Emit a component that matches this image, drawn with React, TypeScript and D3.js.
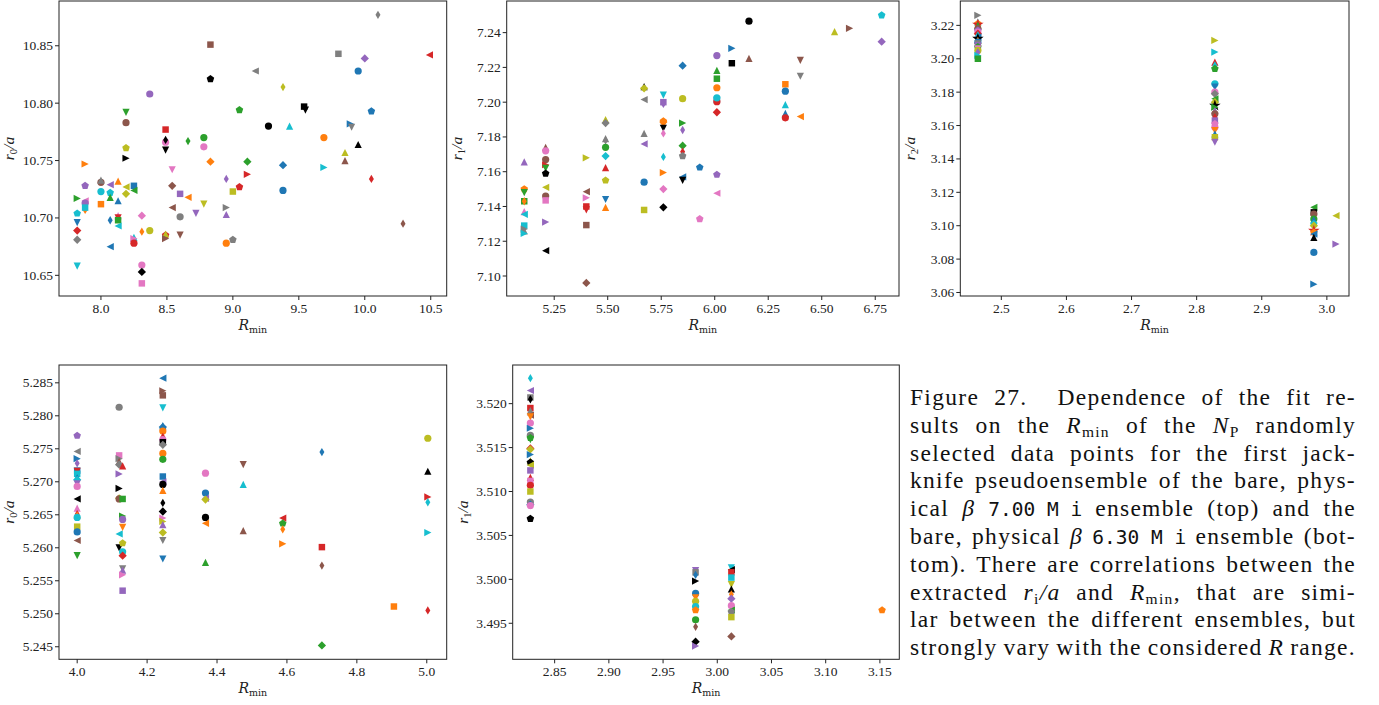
import { useEffect, useRef } from 'react';
import * as d3 from 'd3';

type Pt = [number, number, number, string];

// tab10 + black (index 10)
const COLORS = ['#1f77b4', '#ff7f0e', '#2ca02c', '#d62728', '#9467bd', '#8c564b', '#e377c2', '#7f7f7f', '#bcbd22', '#17becf', '#000000'];

// top left: r0/a vs Rmin (beta 7.00)
const p1: Pt[] = [
  [10.10, 10.877, 7, 'd'], [8.83, 10.851, 5, 's'], [9.80, 10.843, 7, 's'], [10.49, 10.842, 3, '<'],
  [10.00, 10.839, 4, 'D'], [9.95, 10.828, 0, 'o'], [9.17, 10.828, 7, '<'], [8.83, 10.821, 10, 'p'],
  [8.37, 10.808, 4, 'o'], [9.38, 10.814, 8, 'd'], [9.05, 10.794, 2, 'p'], [10.05, 10.793, 0, 'p'],
  [9.54, 10.797, 10, 's'], [9.55, 10.794, 10, 'v'], [8.19, 10.792, 2, 'v'], [8.19, 10.783, 5, 'o'],
  [9.27, 10.780, 10, 'o'], [9.43, 10.780, 9, '^'], [9.89, 10.782, 0, '>'], [9.90, 10.779, 7, 'v'],
  [8.49, 10.777, 3, 's'], [9.69, 10.770, 1, 'o'], [8.78, 10.770, 2, 'o'], [8.66, 10.767, 2, 'd'],
  [8.49, 10.766, 6, 'o'], [8.49, 10.768, 10, 'd'], [8.49, 10.759, 10, 'v'], [8.19, 10.761, 8, 'p'],
  [8.78, 10.762, 6, 'o'], [9.95, 10.764, 10, '^'], [8.19, 10.752, 10, '>'], [7.88, 10.747, 1, '>'],
  [8.83, 10.749, 1, 'D'], [9.11, 10.749, 2, 'D'], [9.38, 10.746, 0, 'D'], [9.85, 10.757, 8, '^'],
  [9.85, 10.750, 5, '^'], [9.69, 10.744, 9, '>'], [8.54, 10.742, 6, 'v'], [9.11, 10.738, 3, '>'],
  [10.05, 10.734, 3, 'd'], [8.95, 10.734, 4, 'd'], [8.00, 10.731, 5, 'o'], [8.00, 10.733, 7, '^'],
  [8.07, 10.729, 4, '<'], [8.13, 10.732, 1, '^'], [7.88, 10.728, 4, 'p'], [8.19, 10.727, 8, '<'],
  [8.25, 10.728, 0, 's'], [9.05, 10.727, 3, 'p'], [8.54, 10.728, 5, 'D'], [9.38, 10.724, 0, 'o'],
  [8.00, 10.723, 9, 'o'], [8.07, 10.722, 9, 'p'], [8.25, 10.724, 2, '<'], [8.19, 10.721, 8, 'D'],
  [9.00, 10.723, 8, 's'], [8.60, 10.721, 4, 's'], [7.82, 10.717, 2, '>'], [8.07, 10.718, 2, '^'],
  [8.00, 10.712, 1, 's'], [8.13, 10.715, 0, '^'], [8.66, 10.718, 1, '<'], [8.78, 10.712, 8, 'v'],
  [7.88, 10.715, 6, '<'], [7.88, 10.713, 4, 'o'], [7.88, 10.707, 1, 'd'], [7.88, 10.709, 9, 's'],
  [7.82, 10.704, 9, 'p'], [8.95, 10.709, 7, '>'], [8.54, 10.709, 5, '<'], [8.72, 10.704, 4, 'v'],
  [8.95, 10.703, 4, '^'], [8.31, 10.702, 6, 'D'], [8.60, 10.701, 7, 'o'], [7.82, 10.696, 0, 'v'],
  [8.07, 10.698, 0, 'd'], [8.13, 10.702, 6, '^'], [8.13, 10.700, 3, 'v'], [8.13, 10.698, 2, 's'],
  [8.13, 10.693, 9, '<'], [7.82, 10.689, 3, 'D'], [8.31, 10.688, 1, 'd'], [8.37, 10.689, 8, 'o'],
  [8.49, 10.685, 3, 'p'], [8.49, 10.686, 8, '^'], [8.49, 10.682, 5, '>'], [8.60, 10.685, 5, 'v'],
  [8.25, 10.683, 9, '^'], [8.25, 10.682, 6, '>'], [8.25, 10.678, 3, 'o'], [7.82, 10.681, 7, 'D'],
  [9.00, 10.681, 7, 'p'], [8.95, 10.678, 1, 'o'], [10.29, 10.695, 5, 'd'], [8.07, 10.675, 0, '<'],
  [7.82, 10.658, 9, 'v'], [8.31, 10.659, 6, 'o'], [8.31, 10.653, 10, 'D'], [8.31, 10.643, 6, 's'],
];

// top middle: r1/a
const p2: Pt[] = [
  [5.11, 7.1656, 4, '^'], [5.11, 7.150, 1, 'p'], [5.11, 7.148, 2, 'v'], [5.11, 7.143, 2, 's'], [5.11, 7.143, 1, 'd'],
  [5.11, 7.137, 6, '^'], [5.11, 7.1355, 9, '<'], [5.11, 7.129, 9, 's'], [5.11, 7.127, 7, '>'], [5.11, 7.126, 7, '^'], [5.11, 7.1245, 9, '>'],
  [5.21, 7.174, 5, '^'], [5.21, 7.172, 6, 'o'], [5.21, 7.167, 5, 'o'], [5.21, 7.164, 3, '>'], [5.21, 7.162, 2, 'v'],
  [5.21, 7.159, 10, 'p'], [5.21, 7.151, 8, '<'], [5.21, 7.146, 5, 'o'], [5.21, 7.1435, 6, 's'], [5.21, 7.131, 4, '>'], [5.21, 7.1146, 10, '<'],
  [5.40, 7.168, 8, '>'], [5.40, 7.1485, 5, '<'], [5.40, 7.145, 6, '>'], [5.40, 7.140, 3, 's'], [5.40, 7.138, 3, 'v'],
  [5.40, 7.1293, 5, 's'], [5.40, 7.096, 5, 'D'],
  [5.49, 7.190, 8, '^'], [5.49, 7.189, 8, 'd'], [5.49, 7.188, 7, 'D'], [5.49, 7.179, 7, '^'], [5.49, 7.178, 7, 'd'],
  [5.49, 7.174, 2, 'o'], [5.49, 7.169, 9, 'D'], [5.49, 7.1623, 3, '^'], [5.49, 7.155, 8, 'p'], [5.49, 7.144, 0, 'v'], [5.49, 7.1395, 1, '^'],
  [5.67, 7.209, 10, '^'], [5.67, 7.208, 8, 'D'], [5.67, 7.2015, 7, '<'], [5.67, 7.182, 7, '^'], [5.67, 7.176, 4, '<'],
  [5.67, 7.154, 0, 'o'], [5.67, 7.138, 8, 's'],
  [5.76, 7.204, 9, 'v'], [5.76, 7.200, 4, 's'], [5.76, 7.199, 4, 'd'], [5.76, 7.1886, 1, 'D'], [5.76, 7.189, 1, 'p'],
  [5.76, 7.185, 10, 'v'], [5.76, 7.182, 6, 'd'], [5.76, 7.1685, 9, 'd'], [5.76, 7.1595, 1, '>'], [5.76, 7.150, 6, 'D'], [5.76, 7.1395, 10, 'D'],
  [5.85, 7.221, 0, 'D'], [5.85, 7.202, 8, 'o'], [5.85, 7.188, 2, '>'], [5.85, 7.184, 4, 'd'], [5.85, 7.175, 2, 'D'],
  [5.85, 7.1715, 3, 'd'], [5.85, 7.169, 7, 'p'], [5.85, 7.157, 0, '<'], [5.85, 7.155, 10, 'v'],
  [5.93, 7.1625, 0, 'p'], [5.93, 7.1328, 6, 'p'],
  [6.01, 7.2268, 4, 'o'], [6.01, 7.2183, 2, '^'], [6.01, 7.2135, 2, 's'], [6.01, 7.2083, 1, 'o'], [6.01, 7.2013, 0, 's'],
  [6.01, 7.2003, 3, 'o'], [6.01, 7.2025, 9, 'o'], [6.01, 7.1942, 3, 'D'], [6.01, 7.1583, 4, 'p'], [6.01, 7.1476, 6, '<'],
  [6.08, 7.231, 0, '>'], [6.08, 7.2224, 10, 's'],
  [6.16, 7.2466, 10, 'o'], [6.16, 7.2252, 5, '^'],
  [6.33, 7.2103, 1, 's'], [6.33, 7.2063, 0, 'o'], [6.33, 7.1986, 9, '^'], [6.33, 7.1935, 0, '^'], [6.33, 7.191, 3, 'o'],
  [6.40, 7.224, 5, 'v'], [6.40, 7.2149, 7, 'v'], [6.40, 7.1917, 1, '<'],
  [6.56, 7.2406, 8, '^'], [6.63, 7.2425, 5, '>'], [6.78, 7.250, 9, 'p'], [6.78, 7.2348, 4, 'D'],
];

// top right: r2/a
const p3: Pt[] = [
  [2.464, 3.226, 7, '>'], [2.464, 3.222, 9, '^'], [2.464, 3.221, 1, 'p'], [2.464, 3.2205, 3, '*'], [2.464, 3.220, 2, '^'],
  [2.464, 3.218, 5, 'o'], [2.464, 3.217, 4, 'p'], [2.464, 3.216, 6, 'o'], [2.464, 3.215, 3, 'D'], [2.464, 3.214, 9, 'd'],
  [2.464, 3.213, 0, '<'], [2.464, 3.212, 10, '*'], [2.464, 3.211, 1, '^'], [2.464, 3.210, 0, 'o'], [2.464, 3.209, 7, 'v'],
  [2.464, 3.208, 4, 's'], [2.464, 3.207, 2, 'p'], [2.464, 3.206, 6, 'v'], [2.464, 3.205, 8, 'o'], [2.464, 3.204, 4, 'd'],
  [2.464, 3.202, 9, '>'], [2.464, 3.200, 2, 's'],
  [2.828, 3.211, 8, '>'], [2.828, 3.204, 9, '>'], [2.828, 3.198, 3, '^'], [2.828, 3.196, 9, 'd'], [2.828, 3.194, 2, 'p'],
  [2.828, 3.185, 9, 'o'], [2.828, 3.183, 0, 'v'], [2.828, 3.180, 6, 'o'], [2.828, 3.179, 7, 'D'], [2.828, 3.176, 2, '<'],
  [2.828, 3.174, 8, 'D'], [2.828, 3.172, 10, '*'], [2.828, 3.171, 2, '>'], [2.828, 3.169, 4, '^'], [2.828, 3.167, 5, 'o'],
  [2.828, 3.165, 3, 'd'], [2.828, 3.163, 4, 's'], [2.828, 3.161, 6, 'p'], [2.828, 3.159, 6, 'o'], [2.828, 3.157, 1, 'v'],
  [2.828, 3.155, 0, '^'], [2.828, 3.153, 8, 's'], [2.828, 3.150, 4, 'v'],
  [2.980, 3.111, 2, '<'], [2.980, 3.108, 10, 's'], [2.980, 3.107, 5, 'o'], [2.980, 3.104, 2, 'o'], [2.980, 3.103, 0, 'd'],
  [2.980, 3.101, 9, 'p'], [2.980, 3.100, 8, 'D'], [2.980, 3.097, 3, '*'], [2.980, 3.096, 1, 'p'], [2.980, 3.095, 0, '<'],
  [2.980, 3.093, 10, '^'], [2.980, 3.084, 0, 'o'], [2.980, 3.065, 0, '>'],
  [3.014, 3.106, 8, '<'], [3.014, 3.089, 4, '>'],
];

// bottom left: r0/a (beta 6.30)
const p4: Pt[] = [
  [4.0, 5.277, 4, 'p'], [4.0, 5.2746, 7, '<'], [4.0, 5.2735, 0, '>'], [4.0, 5.2728, 4, 'd'], [4.0, 5.2717, 0, 's'],
  [4.0, 5.2716, 3, 'v'], [4.0, 5.2712, 9, 's'], [4.0, 5.2705, 0, 'd'], [4.0, 5.2703, 9, 'D'], [4.0, 5.2697, 4, 'v'],
  [4.0, 5.2693, 6, 'o'], [4.0, 5.2674, 10, '<'], [4.0, 5.266, 6, '^'], [4.0, 5.2651, 3, 'd'], [4.0, 5.265, 1, '^'],
  [4.0, 5.2646, 9, 'o'], [4.0, 5.2632, 8, 's'], [4.0, 5.2624, 0, 'o'], [4.0, 5.2611, 5, '<'], [4.0, 5.2588, 2, 'v'],
  [4.12, 5.2813, 7, 'o'], [4.12, 5.274, 6, 's'], [4.12, 5.2735, 7, '>'], [4.12, 5.2731, 5, '^'], [4.12, 5.2726, 7, 'D'],
  [4.12, 5.2712, 4, '>'], [4.12, 5.269, 10, '>'], [4.12, 5.2675, 8, 'D'], [4.12, 5.2674, 5, 'o'], [4.12, 5.2621, 9, '<'],
  [4.12, 5.260, 10, 'v'],
  [4.13, 5.2724, 3, '^'], [4.13, 5.2674, 2, 's'], [4.13, 5.2648, 2, '>'], [4.13, 5.2643, 4, 'o'], [4.13, 5.2631, 1, 'v'],
  [4.13, 5.2607, 8, 'p'], [4.13, 5.2594, 9, 'o'], [4.13, 5.2588, 3, 'D'], [4.13, 5.2568, 7, 'v'], [4.13, 5.2566, 4, '^'],
  [4.13, 5.2559, 6, '>'], [4.13, 5.2535, 4, 's'],
  [4.245, 5.2857, 0, '<'], [4.245, 5.2838, 5, '>'], [4.245, 5.2831, 5, 's'], [4.245, 5.2812, 9, 'v'], [4.245, 5.2785, 0, '^'],
  [4.245, 5.2783, 0, 'D'], [4.245, 5.2777, 1, 'o'], [4.245, 5.2768, 3, 'd'], [4.245, 5.2764, 6, 'o'], [4.245, 5.276, 10, 's'],
  [4.245, 5.2756, 7, 'D'], [4.245, 5.2743, 1, 'o'], [4.245, 5.2734, 2, 'o'], [4.245, 5.2708, 0, 's'], [4.245, 5.270, 4, '<'],
  [4.245, 5.2696, 10, 'o'], [4.245, 5.2687, 1, '^'], [4.245, 5.2668, 10, 'd'], [4.245, 5.2655, 10, 'D'], [4.245, 5.2645, 6, '>'],
  [4.245, 5.264, 8, '>'], [4.245, 5.2635, 4, '^'], [4.245, 5.2623, 8, 'D'], [4.245, 5.2611, 7, 'v'], [4.245, 5.2583, 0, 'v'],
  [4.367, 5.2713, 6, 'o'], [4.367, 5.2683, 0, 'o'], [4.367, 5.2675, 4, '<'], [4.367, 5.2673, 8, 'D'], [4.367, 5.2646, 10, 'o'],
  [4.367, 5.2637, 1, '<'], [4.367, 5.2578, 2, '^'],
  [4.475, 5.2726, 5, 'v'], [4.475, 5.2696, 9, '^'], [4.475, 5.2626, 5, '^'],
  [4.588, 5.2645, 3, '<'], [4.588, 5.2637, 2, 'p'], [4.588, 5.2628, 1, 'd'], [4.588, 5.2606, 1, '>'],
  [4.70, 5.2745, 0, 'd'], [4.70, 5.2601, 3, 's'], [4.70, 5.2573, 5, 'd'], [4.70, 5.2452, 2, 'D'],
  [4.906, 5.2511, 1, 's'],
  [5.003, 5.2766, 8, 'o'], [5.003, 5.2716, 10, '^'], [5.003, 5.2677, 3, '>'], [5.003, 5.2669, 9, 'd'], [5.003, 5.2623, 9, '>'],
  [5.003, 5.2505, 3, 'd'],
];

// bottom middle: r1/a (beta 6.30)
const p5: Pt[] = [
  [2.8276, 3.5229, 9, 'd'], [2.8276, 3.5215, 4, '<'], [2.8276, 3.5207, 7, 's'], [2.8276, 3.5205, 10, 'd'], [2.8276, 3.5195, 3, 's'],
  [2.8276, 3.5192, 7, '^'], [2.8276, 3.5187, 5, '<'], [2.8276, 3.5185, 1, 'v'], [2.8276, 3.5178, 6, 'o'], [2.8276, 3.5172, 0, '>'],
  [2.8276, 3.5164, 7, 'o'], [2.8276, 3.5161, 2, 'p'], [2.8276, 3.5159, 2, 'v'], [2.8276, 3.5149, 3, 'D'], [2.8276, 3.5148, 8, 'D'],
  [2.8276, 3.5142, 0, '>'], [2.8276, 3.5135, 8, '^'], [2.8276, 3.5133, 10, 'p'], [2.8276, 3.513, 8, '<'], [2.8276, 3.5124, 4, 's'],
  [2.8276, 3.5116, 3, '^'], [2.8276, 3.5112, 6, 's'], [2.8276, 3.5107, 3, 'o'], [2.8276, 3.510, 8, 's'], [2.8276, 3.5088, 7, 'o'],
  [2.8276, 3.5085, 0, 'D'], [2.8276, 3.5084, 6, 'o'], [2.8276, 3.5069, 10, 'p'],
  [2.980, 3.501, 4, 'v'], [2.980, 3.5008, 7, 's'], [2.980, 3.5005, 0, 'd'], [2.980, 3.4998, 10, '>'], [2.980, 3.4984, 0, 'o'],
  [2.980, 3.4979, 1, 'v'], [2.980, 3.4975, 8, 'o'], [2.980, 3.4969, 9, 'o'], [2.980, 3.4965, 1, 'p'], [2.980, 3.4954, 2, 'o'],
  [2.980, 3.4946, 5, 'd'], [2.980, 3.4929, 10, 'D'], [2.980, 3.4924, 4, '>'],
  [3.013, 3.5013, 9, 'v'], [3.013, 3.5011, 10, '<'], [3.013, 3.5008, 3, 's'], [3.013, 3.5002, 9, 's'], [3.013, 3.4994, 8, 'v'],
  [3.013, 3.4989, 10, '^'], [3.013, 3.4983, 1, 'd'], [3.013, 3.4978, 4, 'D'], [3.013, 3.497, 6, 'o'], [3.013, 3.4965, 2, '<'],
  [3.013, 3.4963, 7, 'p'], [3.013, 3.4957, 8, 's'], [3.013, 3.4935, 5, 'D'],
  [3.152, 3.4965, 1, 'p'],
];

const x1Ticks = [8.0, 8.5, 9.0, 9.5, 10.0, 10.5];
const y1Ticks = [10.65, 10.70, 10.75, 10.80, 10.85];
const x2Ticks = [5.25, 5.50, 5.75, 6.00, 6.25, 6.50, 6.75];
const y2Ticks = [7.10, 7.12, 7.14, 7.16, 7.18, 7.20, 7.22, 7.24];
const x3Ticks = [2.5, 2.6, 2.7, 2.8, 2.9, 3.0];
const y3Ticks = [3.06, 3.08, 3.10, 3.12, 3.14, 3.16, 3.18, 3.20, 3.22];
const x4Ticks = [4.0, 4.2, 4.4, 4.6, 4.8, 5.0];
const y4Ticks = [5.245, 5.250, 5.255, 5.260, 5.265, 5.270, 5.275, 5.280, 5.285];
const x5Ticks = [2.85, 2.90, 2.95, 3.00, 3.05, 3.10, 3.15];
const y5Ticks = [3.495, 3.500, 3.505, 3.510, 3.515, 3.520];

const SERIF = 'Liberation Serif';
const SERIF2 = 'DejaVu Serif';
const MONO = 'DejaVu Sans Mono';

function marker(m: string, r: number): string {
  switch (m) {
    case 'o': return d3.symbol(d3.symbolCircle, Math.PI * r * r)() as string;
    case '^': return `M0,${-r}L${r},${r}L${-r},${r}Z`;
    case 'v': return `M0,${r}L${r},${-r}L${-r},${-r}Z`;
    case '<': return `M${-r},0L${r},${-r}L${r},${r}Z`;
    case '>': return `M${r},0L${-r},${-r}L${-r},${r}Z`;
    case 's': { const h = r * 0.9; return `M${-h},${-h}H${h}V${h}H${-h}Z`; }
    case 'D': { const h = r * 1.15; return `M0,${-h}L${h},0L0,${h}L${-h},0Z`; }
    case 'd': { const h = r * 1.15; return `M0,${-h}L${h * 0.6},0L0,${h}L${-h * 0.6},0Z`; }
    case 'p': {
      const pts = d3.range(5).map(i => {
        const a = -Math.PI / 2 + (i * 2 * Math.PI) / 5;
        return [Math.cos(a) * r * 1.1, Math.sin(a) * r * 1.1];
      });
      return 'M' + pts.map(p => p.join(',')).join('L') + 'Z';
    }
    case '*': return d3.symbol(d3.symbolStar, r * r * 3.2)() as string;
    default: return '';
  }
}

function Panel({ left, top, right, bottom, xd, yd, xt, yt, xf, yf, sub, pts }: any) {
  const x = d3.scaleLinear().domain(xd).range([left, right]);
  const y = d3.scaleLinear().domain(yd).range([bottom, top]);
  const fx = d3.format(xf);
  const fy = d3.format(yf);
  const midY = (top + bottom) / 2;
  return (
    <g>
      {pts.map((p: Pt, i: number) => (
        <path key={i} d={marker(p[3], 3.6)} fill={COLORS[p[2]]}
          transform={`translate(${x(p[0])},${y(p[1])})`} />
      ))}
      <rect x={left} y={top} width={right - left} height={bottom - top} fill="none" stroke="#222" strokeWidth={1} />
      {xt.map((t: number) => (
        <g key={t}>
          <line x1={x(t)} x2={x(t)} y1={bottom} y2={bottom + 4} stroke="#222" />
          <text x={x(t)} y={bottom + 17} textAnchor="middle" fontSize={13.5} fontFamily={SERIF} fill="#222">{fx(t)}</text>
        </g>
      ))}
      {yt.map((t: number) => (
        <g key={t}>
          <line x1={left - 4} x2={left} y1={y(t)} y2={y(t)} stroke="#222" />
          <text x={left - 6} y={y(t) + 4.5} textAnchor="end" fontSize={13.5} fontFamily={SERIF} fill="#222">{fy(t)}</text>
        </g>
      ))}
      <text x={(left + right) / 2} y={bottom + 34} textAnchor="middle" fontFamily={SERIF2} fontSize={14} fill="#222">
        <tspan fontStyle="italic">R</tspan><tspan fontSize={9.5} dy={3}>min</tspan>
      </text>
      <text transform={`translate(${left - 45},${midY}) rotate(-90)`} textAnchor="middle" fontFamily={SERIF} fontSize={15.5} fill="#222">
        <tspan fontStyle="italic">r</tspan><tspan fontSize={10.5} dy={3}>{sub}</tspan><tspan dy={-3} fontStyle="italic">/a</tspan>
      </text>
    </g>
  );
}

// caption lines: [text, style] segments; 'i' italic, 's' subscript, 'm' monospace
type Seg = [string, string?];
const FS = '\u2007';
const captionLines: Seg[][] = [
  [['Figure 27.  Dependence of the fit re-']],
  [['sults on the '], ['R', 'i'], ['min', 's'], [' of the '], ['N', 'i'], ['P', 's'], [' randomly']],
  [['selected data points for the first jack-']],
  [['knife pseudoensemble of the bare, phys-']],
  [['ical '], ['β', 'i'], [' '], [`7.00${FS}M${FS}i`, 'm'], [' ensemble (top) and the']],
  [['bare, physical '], ['β', 'i'], [' '], [`6.30${FS}M${FS}i`, 'm'], [' ensemble (bot-']],
  [['tom). There are correlations between the']],
  [['extracted '], ['r', 'i'], ['i', 's'], ['/a', 'i'], [' and '], ['R', 'i'], ['min', 's'], [', that are simi-']],
  [['lar between the different ensembles, but']],
  [['strongly vary with the considered '], ['R', 'i'], [' range.']],
];

function Caption() {
  const x0 = 910;
  const w = 446;
  const y0 = 405;
  const lh = 27.8;
  const refs = useRef<(SVGTextElement | null)[]>([]);

  // justify each line by spreading the word gaps
  useEffect(() => {
    refs.current.forEach(el => {
      if (!el) return;
      el.style.wordSpacing = '0px';
      const len = el.getComputedTextLength();
      const gaps = (el.textContent || '').split(' ').length - 1;
      if (gaps > 0) el.style.wordSpacing = `${(w - len) / gaps}px`;
    });
  }, []);

  return (
    <g fontFamily={SERIF} fontSize={23.5} fill="#111">
      {captionLines.map((segs, i) => {
        let shift = 0;
        return (
          <text key={i} ref={el => { refs.current[i] = el; }} x={x0} y={y0 + i * lh}
            style={{ whiteSpace: 'pre', letterSpacing: '1.3px' }}>
            {segs.map(([s, k], j) => {
              const dy = k === 's' ? 4 - shift : -shift;
              shift = k === 's' ? 4 : 0;
              const props: any = { dy };
              if (k === 'i') props.fontStyle = 'italic';
              if (k === 's') props.fontSize = 15.5;
              if (k === 'm') { props.fontFamily = MONO; props.fontSize = 19.5; props.style = { letterSpacing: '0px' }; }
              return <tspan key={j} {...props}>{s}</tspan>;
            })}
          </text>
        );
      })}
    </g>
  );
}

export default function App() {
  return (
    <svg width={1379} height={705} style={{ position: 'absolute', left: 0, top: 0, background: '#fff' }}>
      <Panel left={59} top={1} right={446.7} bottom={296} xd={[7.682, 10.621]} yd={[10.632, 10.889]}
        xt={x1Ticks} yt={y1Ticks} xf=".1f" yf=".2f" sub="0" pts={p1} />
      <Panel left={506.7} top={1} right={899} bottom={296} xd={[5.028, 6.861]} yd={[7.0885, 7.2582]}
        xt={x2Ticks} yt={y2Ticks} xf=".2f" yf=".2f" sub="1" pts={p2} />
      <Panel left={960.3} top={1} right={1349} bottom={296} xd={[2.437, 3.034]} yd={[3.0579, 3.2346]}
        xt={x3Ticks} yt={y3Ticks} xf=".1f" yf=".2f" sub="2" pts={p3} />
      <Panel left={59} top={365} right={446.7} bottom={659.3} xd={[3.948, 5.057]} yd={[5.2431, 5.2877]}
        xt={x4Ticks} yt={y4Ticks} xf=".1f" yf=".3f" sub="0" pts={p4} />
      <Panel left={512.7} top={365} right={899.3} bottom={659.3} xd={[2.8113, 3.1679]} yd={[3.4909, 3.5244]}
        xt={x5Ticks} yt={y5Ticks} xf=".2f" yf=".3f" sub="1" pts={p5} />
      <Caption />
    </svg>
  );
}
